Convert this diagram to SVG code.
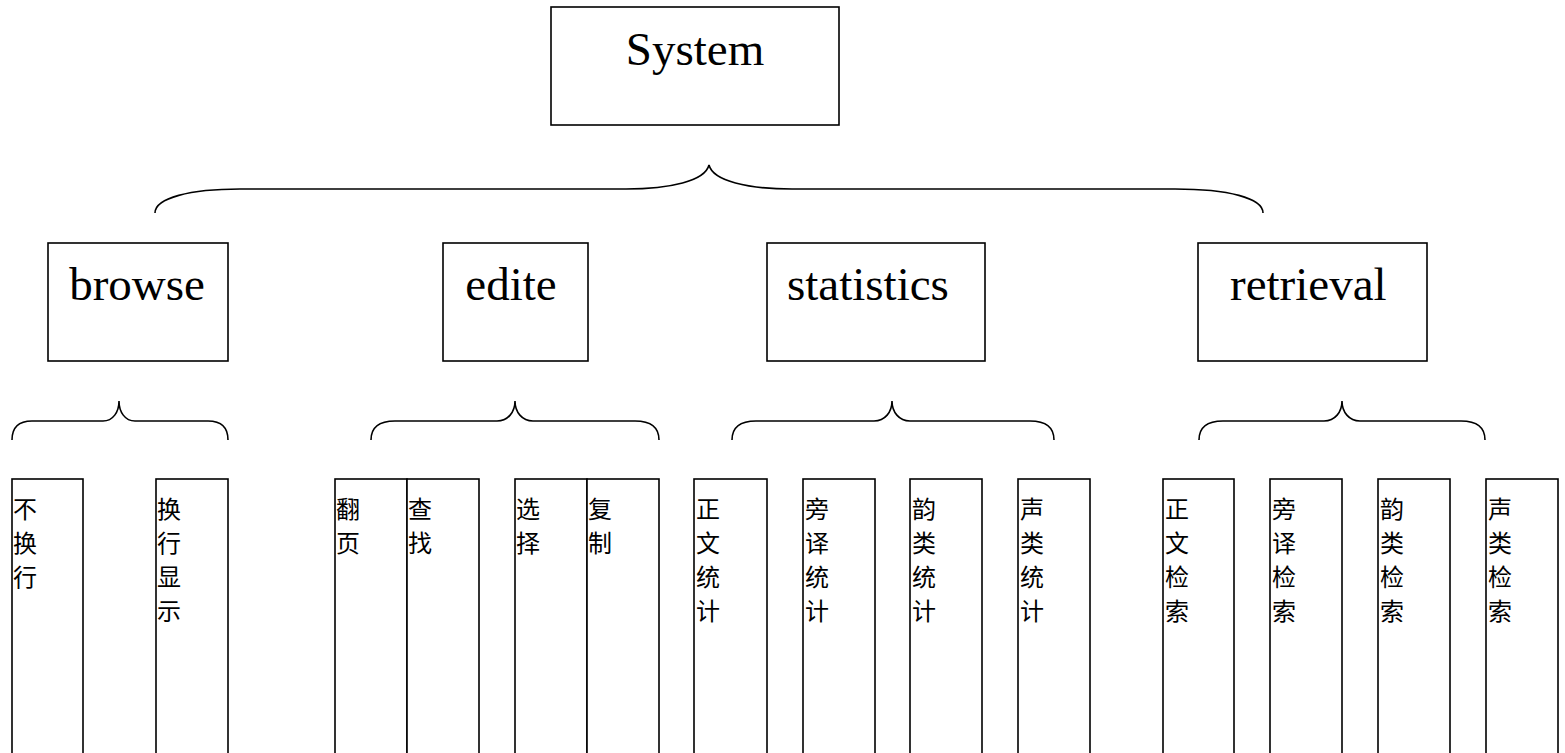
<svg xmlns="http://www.w3.org/2000/svg" width="1565" height="753" viewBox="0 0 1565 753">
<style>
.box{fill:#fff;stroke:#000;stroke-width:1.6}
.br{fill:none;stroke:#000;stroke-width:1.6}
.t1{font-family:"Liberation Serif","Times New Roman",serif;font-size:47px;fill:#000}
.t2{font-family:"Noto Sans CJK SC",sans-serif;font-size:24px;fill:#000}
</style>
<rect width="1565" height="753" fill="#fff"/>
<g id="connectors">
<path class="br" d="M155,213 C155,198 190,189 240,189 L626,189 C670,189 705,181 709,165 C713,181 748,189 792,189 L1175,189 C1228,189 1263,198 1263,213"/>
<path class="br" d="M12,440 C12,428 18,421 32,421 L103,421 C113,421 119,412 119,401 C119,412 125,421 135,421 L208,421 C222,421 228,428 228,440"/>
<path class="br" d="M371,440 C371,428 379,421 395,421 L497,421 C508,421 515,412 515,401 C515,412 522,421 533,421 L635,421 C651,421 659,428 659,440"/>
<path class="br" d="M732,440 C732,428 740,421 756,421 L874,421 C885,421 892,412 892,401 C892,412 899,421 910,421 L1030,421 C1046,421 1054,428 1054,440"/>
<path class="br" d="M1199,440 C1199,428 1207,421 1223,421 L1324,421 C1335,421 1342,412 1342,401 C1342,412 1349,421 1360,421 L1461,421 C1477,421 1485,428 1485,440"/>
</g>
<g id="system"><rect class="box" x="551" y="7" width="288" height="118"/><text class="t1" x="695" y="65" text-anchor="middle">System</text></g>
<g id="browse"><rect class="box" x="48" y="243" width="180" height="118"/><text class="t1" x="137" y="300" text-anchor="middle">browse</text></g>
<g id="edite"><rect class="box" x="443" y="243" width="145" height="118"/><text class="t1" x="511" y="300" text-anchor="middle">edite</text></g>
<g id="statistics"><rect class="box" x="767" y="243" width="218" height="118"/><text class="t1" x="787" y="300">statistics</text></g>
<g id="retrieval"><rect class="box" x="1198" y="243" width="229" height="118"/><text class="t1" x="1230" y="300">retrieval</text></g>

<g id="n1"><rect class="box" x="12" y="479" width="71" height="300"/><text class="t2"><tspan x="13" y="518">不</tspan><tspan x="13" dy="34">换</tspan><tspan x="13" dy="34">行</tspan></text></g>
<g id="n2"><rect class="box" x="156" y="479" width="72" height="300"/><text class="t2"><tspan x="157" y="518">换</tspan><tspan x="157" dy="34">行</tspan><tspan x="157" dy="34">显</tspan><tspan x="157" dy="34">示</tspan></text></g>

<g id="n3"><rect class="box" x="335" y="479" width="72" height="300"/><text class="t2"><tspan x="336" y="518">翻</tspan><tspan x="336" dy="34">页</tspan></text></g>
<g id="n4"><rect class="box" x="407" y="479" width="72" height="300"/><text class="t2"><tspan x="408" y="518">查</tspan><tspan x="408" dy="34">找</tspan></text></g>
<g id="n5"><rect class="box" x="515" y="479" width="72" height="300"/><text class="t2"><tspan x="516" y="518">选</tspan><tspan x="516" dy="34">择</tspan></text></g>
<g id="n6"><rect class="box" x="587" y="479" width="72" height="300"/><text class="t2"><tspan x="588" y="518">复</tspan><tspan x="588" dy="34">制</tspan></text></g>

<g id="n7"><rect class="box" x="694" y="479" width="73" height="300"/><text class="t2"><tspan x="696" y="518">正</tspan><tspan x="696" dy="34">文</tspan><tspan x="696" dy="34">统</tspan><tspan x="696" dy="34">计</tspan></text></g>
<g id="n8"><rect class="box" x="803" y="479" width="72" height="300"/><text class="t2"><tspan x="805" y="518">旁</tspan><tspan x="805" dy="34">译</tspan><tspan x="805" dy="34">统</tspan><tspan x="805" dy="34">计</tspan></text></g>
<g id="n9"><rect class="box" x="910" y="479" width="72" height="300"/><text class="t2"><tspan x="912" y="518">韵</tspan><tspan x="912" dy="34">类</tspan><tspan x="912" dy="34">统</tspan><tspan x="912" dy="34">计</tspan></text></g>
<g id="n10"><rect class="box" x="1018" y="479" width="72" height="300"/><text class="t2"><tspan x="1020" y="518">声</tspan><tspan x="1020" dy="34">类</tspan><tspan x="1020" dy="34">统</tspan><tspan x="1020" dy="34">计</tspan></text></g>

<g id="n11"><rect class="box" x="1163" y="479" width="71" height="300"/><text class="t2"><tspan x="1165" y="518">正</tspan><tspan x="1165" dy="34">文</tspan><tspan x="1165" dy="34">检</tspan><tspan x="1165" dy="34">索</tspan></text></g>
<g id="n12"><rect class="box" x="1270" y="479" width="72" height="300"/><text class="t2"><tspan x="1272" y="518">旁</tspan><tspan x="1272" dy="34">译</tspan><tspan x="1272" dy="34">检</tspan><tspan x="1272" dy="34">索</tspan></text></g>
<g id="n13"><rect class="box" x="1378" y="479" width="72" height="300"/><text class="t2"><tspan x="1380" y="518">韵</tspan><tspan x="1380" dy="34">类</tspan><tspan x="1380" dy="34">检</tspan><tspan x="1380" dy="34">索</tspan></text></g>
<g id="n14"><rect class="box" x="1486" y="479" width="72" height="300"/><text class="t2"><tspan x="1488" y="518">声</tspan><tspan x="1488" dy="34">类</tspan><tspan x="1488" dy="34">检</tspan><tspan x="1488" dy="34">索</tspan></text></g>
</svg>
